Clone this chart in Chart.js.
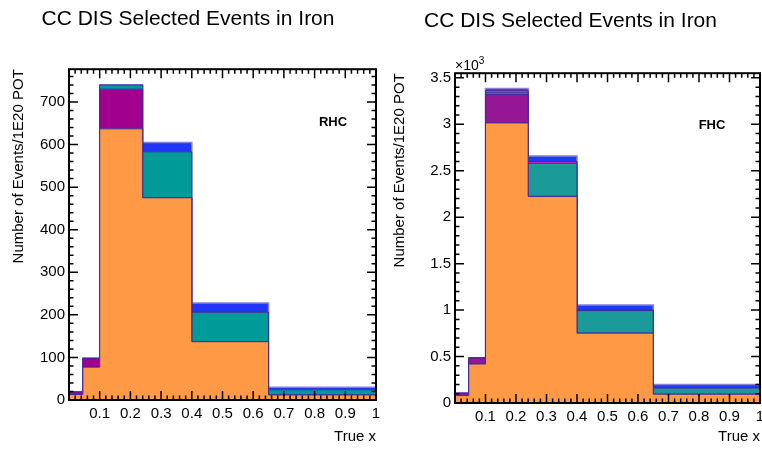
<!DOCTYPE html>
<html>
<head>
<meta charset="utf-8">
<title>CC DIS Selected Events in Iron</title>
<script src="https://cdn.jsdelivr.net/npm/chart.js@4.4.1/dist/chart.umd.min.js"></script>
<style>
  html, body { margin: 0; padding: 0; background: #fff; }
  #wrap { position: relative; width: 762px; height: 449px; }
  .pane { position: absolute; top: 0; width: 381px; height: 449px; }
</style>
</head>
<body>
<div id="wrap">
  <div class="pane" style="left:0"><canvas id="rhc" width="381" height="449"></canvas></div>
  <div class="pane" style="left:381px"><canvas id="fhc" width="381" height="449"></canvas></div>
</div>
<script>
// bin edges in true x (variable width)
const binEdges = [0, 0.045, 0.1, 0.24, 0.4, 0.65, 1.0];
const xTickValues = [0.1, 0.2, 0.3, 0.4, 0.5, 0.6, 0.7, 0.8, 0.9, 1.0];

// RHC, events / 1E20 POT per bin, bottom layer first
const rhcOrange = [13, 77, 637, 475, 137, 12];
const rhcPurple = [6, 21, 93, 0, 0, 0];
const rhcTeal = [0, 0, 10, 108, 69, 12];
const rhcBlue = [0, 0, 0, 22, 22, 6];
const rhcYTicks = [0, 100, 200, 300, 400, 500, 600, 700];

// FHC, events / 1E20 POT per bin, bottom layer first
const fhcOrange = [80, 420, 3015, 2224, 752, 95];
const fhcPurple = [25, 65, 305, 0, 0, 0];
const fhcTeal = [0, 0, 20, 356, 243, 65];
const fhcMagenta = [0, 0, 25, 20, 7, 5];
const fhcBlue = [0, 0, 20, 60, 53, 35];
const fhcYTicks = [0, 500, 1000, 1500, 2000, 2500, 3000, 3500];

const FONT = "'Liberation Sans', Arial, Helvetica, sans-serif";
const LINE = "#3a2b9b";
const OUTLINE = "#8a7ddc";

Chart.defaults.font.family = FONT;
Chart.defaults.color = "#000";

// turn per-bin layer values into cumulative stepped outlines
function stackLayers(layers) {
    const tops = new Array(binEdges.length - 1).fill(0);
    return layers.map((layer, i) => {
        layer.values.forEach((v, b) => { tops[b] += v; });
        const pts = tops.map((t, b) => ({ x: binEdges[b], y: t }));
        pts.push({ x: binEdges[binEdges.length - 1], y: tops[tops.length - 1] });
        const last = (i === layers.length - 1);
        return {
            label: layer.label,
            data: pts,
            stepped: "before",
            fill: (i === 0 ? "origin" : "-1"),
            backgroundColor: layer.color,
            borderColor: last ? OUTLINE : LINE,
            borderWidth: last ? 1.5 : 1,
            pointRadius: 0
        };
    });
}

// ROOT-like frame with inward ticks on all four sides
const frameTicks = {
    id: "frameTicks",
    afterDatasetsDraw(chart, args, opts) {
        const { ctx, chartArea: a } = chart;
        const x = chart.scales.x;
        const y = chart.scales.y;
        ctx.save();
        ctx.strokeStyle = "#000";
        ctx.lineWidth = 1.5;
        ctx.beginPath();
        for (let i = 0; i <= 50; i++) {
            const px = x.getPixelForValue(i / 50);
            const len = (i % 5 === 0 ? 9 : 4.5);
            ctx.moveTo(px, a.bottom);
            ctx.lineTo(px, a.bottom - len);
            ctx.moveTo(px, a.top);
            ctx.lineTo(px, a.top + len);
        }
        const n = Math.floor(y.max / opts.minor);
        for (let i = 0; i <= n; i++) {
            const py = y.getPixelForValue(i * opts.minor);
            const len = (i % opts.per === 0 ? 9 : 4.5);
            ctx.moveTo(a.left, py);
            ctx.lineTo(a.left + len, py);
            ctx.moveTo(a.right, py);
            ctx.lineTo(a.right - len, py);
        }
        ctx.stroke();
        ctx.lineWidth = 2;
        ctx.strokeRect(a.left, a.top, a.right - a.left, a.bottom - a.top);

        ctx.fillStyle = "#000";
        ctx.textAlign = "center";
        ctx.textBaseline = "middle";
        ctx.font = "bold 13px " + FONT;
        ctx.fillText(opts.tag, opts.tagX, opts.tagY);

        if (opts.exponent) {
            ctx.textAlign = "left";
            ctx.textBaseline = "alphabetic";
            ctx.font = "14px " + FONT;
            ctx.fillText("\u00d710", a.left, a.top - 3);
            const w = ctx.measureText("\u00d710").width;
            ctx.font = "10px " + FONT;
            ctx.fillText("3", a.left + w, a.top - 9);
        }
        ctx.restore();
    }
};

function makeChart(id, cfg) {
    return new Chart(document.getElementById(id), {
        type: "line",
        data: { datasets: stackLayers(cfg.layers) },
        plugins: [frameTicks],
        options: {
            responsive: false,
            animation: false,
            layout: { padding: { left: 0, right: cfg.padRight, top: 0, bottom: 0 } },
            plugins: {
                legend: { display: false },
                tooltip: { enabled: false },
                title: {
                    display: true,
                    text: "CC DIS Selected Events in Iron",
                    font: { size: 21, weight: "normal" },
                    padding: { top: cfg.titleTop, bottom: cfg.titleBottom }
                },
                frameTicks: cfg.frame
            },
            scales: {
                x: {
                    type: "linear",
                    min: 0,
                    max: 1,
                    afterFit: (s) => {
                        s.height = cfg.xHeight;
                        s.paddingLeft = 0;
                        s.paddingRight = 0;
                    },
                    afterBuildTicks: (s) => { s.ticks = xTickValues.map((v) => ({ value: v })); },
                    grid: { display: false, drawTicks: false },
                    border: { display: false },
                    ticks: {
                        padding: 5,
                        maxRotation: 0,
                        autoSkip: false,
                        font: { size: 15 },
                        callback: (v) => String(+v.toFixed(1))
                    },
                    title: {
                        display: true,
                        text: "True x",
                        align: "end",
                        font: { size: 15 },
                        padding: { top: 0, bottom: 3 }
                    }
                },
                y: {
                    min: 0,
                    max: cfg.yMax,
                    afterFit: (s) => {
                        s.width = cfg.yWidth;
                        s.paddingTop = 0;
                        s.paddingBottom = 0;
                    },
                    afterBuildTicks: (s) => { s.ticks = cfg.yTicks.map((v) => ({ value: v })); },
                    grid: { display: false, drawTicks: false },
                    border: { display: false },
                    ticks: {
                        padding: 4,
                        autoSkip: false,
                        font: { size: 15 },
                        callback: cfg.yLabel
                    },
                    title: {
                        display: true,
                        text: "Number of Events/1E20 POT",
                        align: "end",
                        font: { size: 15 },
                        padding: { top: 10, bottom: 0 }
                    }
                }
            }
        }
    });
}

makeChart("rhc", {
    layers: [
        { label: "orange", values: rhcOrange, color: "#fe9a45" },
        { label: "purple", values: rhcPurple, color: "#a1008f" },
        { label: "teal", values: rhcTeal, color: "#009b98" },
        { label: "blue", values: rhcBlue, color: "#1f35f7" }
    ],
    yMax: 777,
    yTicks: rhcYTicks,
    yLabel: (v) => String(v),
    yWidth: 69,
    xHeight: 49,
    padRight: 5,
    titleTop: 7,
    titleBottom: 37,
    frame: { minor: 20, per: 5, tag: "RHC", tagX: 333, tagY: 122, exponent: false }
});

makeChart("fhc", {
    layers: [
        { label: "orange", values: fhcOrange, color: "#fe9a45" },
        { label: "purple", values: fhcPurple, color: "#951795" },
        { label: "teal", values: fhcTeal, color: "#1a9a98" },
        { label: "magenta", values: fhcMagenta, color: "#e21fc2" },
        { label: "blue", values: fhcBlue, color: "#1a3cf5" }
    ],
    yMax: 3550,
    yTicks: fhcYTicks,
    yLabel: (v) => String(v / 1000),
    yWidth: 74,
    xHeight: 46,
    padRight: 2,
    titleTop: 9,
    titleBottom: 39,
    frame: { minor: 100, per: 5, tag: "FHC", tagX: 331, tagY: 125, exponent: true }
});
</script>
</body>
</html>
